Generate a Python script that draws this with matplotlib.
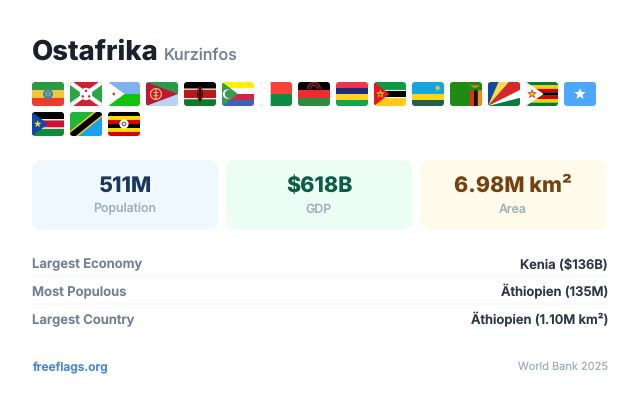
import math
import matplotlib
matplotlib.use("Agg")
import matplotlib.pyplot as plt
from matplotlib.patches import FancyBboxPatch, Polygon, Rectangle, Circle, Wedge, Ellipse

plt.rcParams['font.family'] = ['Inter', 'DejaVu Sans']
plt.rcParams['text.hinting'] = 'no_hinting'
plt.rcParams['text.hinting_factor'] = 1

title = "Ostafrika"
subtitle = "Kurzinfos"
stat_values = ["511M", "$618B", "6.98M km²"]
stat_labels = ["Population", "GDP", "Area"]
stat_bg = ["#F0F8FF", "#EBFDF4", "#FFFBEA"]
stat_fg = ["#1A365D", "#0F5C45", "#744210"]
row_labels = ["Largest Economy", "Most Populous", "Largest Country"]
row_values = ["Kenia ($136B)", "Äthiopien (135M)", "Äthiopien (1.10M km²)"]
footer_left = "freeflags.org"
footer_right = "World Bank 2025"
flag_codes = ["et", "bi", "dj", "er", "ke", "km", "mg", "mw", "mu", "mz", "rw", "zm", "sc", "zw", "so",
              "ss", "tz", "ug"]

PX = 0.72
fig = plt.figure(figsize=(6.4, 4.0601), dpi=100, facecolor="white")
ax = fig.add_axes([0, 0, 1, 1])
ax.set_xlim(0, 640)
ax.set_ylim(406, 0)
ax.axis("off")

FW, FH = 32, 24


def flag(code, x0, y0):
    ax.add_patch(FancyBboxPatch((x0 + 0.3, y0 + 1.2), FW - 0.6, FH - 0.4,
                                boxstyle="round,pad=0,rounding_size=3",
                                fc="#E9EDF2", ec="none", alpha=0.55, zorder=1))
    clip = FancyBboxPatch((x0, y0), FW, FH, boxstyle="round,pad=0,rounding_size=3",
                          fc="white", ec="none", zorder=2)
    ax.add_patch(clip)
    z = [3]

    def add(p):
        z[0] += 1
        p.set_zorder(z[0])
        p.set_clip_path(clip)
        p.set_linewidth(0)
        p.set_snap(False)
        ax.add_patch(p)

    def rect(u, v, w, h, c):
        add(Rectangle((x0 + u * FW, y0 + v * FH), w * FW, h * FH, fc=c, ec="none"))

    def poly(pts, c):
        add(Polygon([(x0 + u * FW, y0 + v * FH) for u, v in pts], closed=True, fc=c, ec="none"))

    def circ(u, v, r, c):
        add(Circle((x0 + u * FW, y0 + v * FH), r, fc=c, ec="none"))

    def star(u, v, r, c):
        pts = []
        for i in range(10):
            rr = r if i % 2 == 0 else r * 0.42
            a = -math.pi / 2 + i * math.pi / 5
            pts.append((x0 + u * FW + rr * math.cos(a), y0 + v * FH + rr * math.sin(a)))
        add(Polygon(pts, closed=True, fc=c, ec="none"))

    def ell(u, v, w, h, c):
        add(Ellipse((x0 + u * FW, y0 + v * FH), w, h, fc=c, ec="none"))

    def stripes(cs, ws=None):
        ws = ws or [1 / len(cs)] * len(cs)
        v = 0
        for c, w in zip(cs, ws):
            rect(0, v, 1, w, c)
            v += w

    if code == "et":
        stripes(["#2B9A3E", "#F2C63A", "#EF3B2D"])
        circ(.5, .5, 5, "#3F86B0")
        star(.5, .5, 3.6, "#C9B65A")
        circ(.5, .5, 1.4, "#3F86B0")
    elif code == "bi":
        rect(0, 0, 1, 1, "#27A845")
        poly([(0, 0), (1, 0), (.5, .5)], "#CE2232")
        poly([(0, 1), (1, 1), (.5, .5)], "#CE2232")
        poly([(0, 0), (.1, 0), (1, .88), (1, 1), (.9, 1), (0, .12)], "white")
        poly([(1, 0), (.9, 0), (0, .88), (0, 1), (.1, 1), (1, .12)], "white")
        circ(.5, .5, 6.2, "white")
        for u, v in [(.5, .37), (.4, .6), (.6, .6)]:
            circ(u, v, 1.2, "#CE2232")
    elif code == "dj":
        stripes(["#7FB2EE", "#12C20E"])
        poly([(0, 0), (.52, .5), (0, 1)], "white")
        star(.18, .5, 2, "#D7141A")
    elif code == "er":
        rect(0, 0, 1, .5, "#2B9A48")
        rect(0, .5, 1, .5, "#B8D4F2")
        poly([(0, 0), (1, .5), (0, 1)], "#C01535")
        add(Wedge((x0 + .31 * FW, y0 + .5 * FH), 6, 0, 360, width=1.2, fc="#E9C46A", ec="none"))
        rect(.29, .3, .04, .4, "#E9C46A")
        rect(.23, .42, .16, .04, "#E9C46A")
        rect(.23, .55, .16, .04, "#E9C46A")
    elif code == "ke":
        stripes(["#000000", "white", "#BB1A1A", "white", "#0B7A2B"], [.28, .04, .36, .04, .28])
        ell(.5, .5, 6, 15, "#BB1A1A")
        rect(.475, .2, .05, .6, "#111111")
        ell(.43, .5, 1.4, 8, "#111111")
        ell(.57, .5, 1.4, 8, "#111111")
    elif code == "km":
        stripes(["#FFF200", "white", "#CE2746", "#3D63B5"])
        poly([(0, 0), (.5, .5), (0, 1)], "#3A9B4E")
        circ(.17, .5, 4.7, "white")
        circ(.22, .5, 4.2, "#3A9B4E")
    elif code == "mg":
        rect(0, 0, 1, .5, "#F9423A")
        rect(0, .5, 1, .5, "#0F8A44")
        rect(0, 0, 1 / 3, 1, "white")
    elif code == "mw":
        stripes(["#000000", "#EF2B2D", "#2E8B3D"])
        add(Wedge((x0 + .5 * FW, y0 + 7), 7, 180, 360, width=1.4, fc="#AA1E1E", ec="none"))
        add(Wedge((x0 + .5 * FW, y0 + 7), 4.4, 180, 360, width=1.4, fc="#AA1E1E", ec="none"))
    elif code == "mu":
        stripes(["#E8384F", "#1F2A78", "#FFD21F", "#0FA650"])
    elif code == "mz":
        stripes(["#0E9A3E", "#000000", "#FFCC1A"], [.36, .28, .36])
        rect(0, .33, 1, .04, "white")
        rect(0, .63, 1, .04, "white")
        poly([(0, 0), (.48, .5), (0, 1)], "#E8171F")
        star(.2, .5, 4.4, "#FFCC1A")
        circ(.2, .52, 1.2, "#55341A")
    elif code == "rw":
        stripes(["#18A5DF", "#F9D616", "#23604A"], [.5, .25, .25])
        circ(.8, .25, 2.2, "#C9CC4B")
    elif code == "zm":
        rect(0, 0, 1, 1, "#1F8A16")
        rect(.62, .35, .13, .65, "#D9341F")
        rect(.75, .35, .12, .65, "#111111")
        rect(.87, .35, .13, .65, "#F08A1D")
        poly([(.62, .14), (.95, .14), (.82, .24), (.75, .24)], "#E5821E")
    elif code == "sc":
        rect(0, 0, 1, 1, "#0B7A3E")
        poly([(0, 1), (0, 0), (.33, 0)], "#0F4C9E")
        poly([(0, 1), (.33, 0), (.66, 0)], "#FCD856")
        poly([(0, 1), (.66, 0), (1, 0), (1, .33)], "#D62828")
        poly([(0, 1), (1, .33), (1, .66)], "white")
    elif code == "zw":
        stripes(["#0A7A37", "#FFD200", "#D40000", "#000000", "#D40000", "#FFD200", "#0A7A37"])
        poly([(0, 0), (.55, .5), (0, 1)], "white")
        star(.19, .5, 5, "#D40000")
        star(.19, .5, 3.4, "#F5C518")
    elif code == "so":
        rect(0, 0, 1, 1, "#4DA6FF")
        star(.5, .5, 6, "white")
    elif code == "ss":
        stripes(["#000000", "white", "#D21034", "white", "#0F8A3C"], [.3, .05, .3, .05, .3])
        poly([(0, 0), (.5, .5), (0, 1)], "#0F47AF")
        star(.18, .5, 3.8, "#FCDD09")
    elif code == "tz":
        rect(0, 0, 1, 1, "#1EB53A")
        poly([(1, 0), (1, 1), (0, 1)], "#19A0F0")
        poly([(.74, 0), (1, 0), (1, .2), (.26, 1), (0, 1), (0, .8)], "#FCD116")
        poly([(.82, 0), (1, 0), (1, .13), (.18, 1), (0, 1), (0, .87)], "#000000")
    elif code == "ug":
        stripes(["#000000", "#FCDC04", "#D90000"] * 2)
        circ(.5, .5, 4.6, "white")
        circ(.5, .5, 2.4, "#777777")
        circ(.5, .5, 1.0, "white")


for i, code in enumerate(flag_codes):
    row, col = divmod(i, 15)
    flag(code, 32 + col * 38, 82 + row * 30)

ax.text(32, 60, title, fontsize=27.5 * PX, fontweight=800, color="#1A202C", ha="left", va="baseline")
ax.text(164, 59.5, subtitle, fontsize=16 * PX, fontweight="medium", color="#718096", ha="left", va="baseline")

for i in range(3):
    x = 32 + i * 194
    ax.add_patch(FancyBboxPatch((x, 160), 186, 70, boxstyle="round,pad=0,rounding_size=10",
                                fc=stat_bg[i], ec="none", zorder=1))
    ax.text(x + 93, 192, stat_values[i], fontsize=21.5 * PX, fontweight=800, color=stat_fg[i],
            ha="center", va="baseline", zorder=3)
    ax.text(x + 93, 212.5, stat_labels[i], fontsize=12.4 * PX, fontweight="medium", color="#A0AEC0",
            ha="center", va="baseline", zorder=3)

for i in range(3):
    y = 268.5 + i * 28
    ax.text(32, y, row_labels[i], fontsize=13.1 * PX, fontweight="semibold", color="#718096",
            ha="left", va="baseline")
    ax.text(608, y, row_values[i], fontsize=13 * PX, fontweight="semibold", color="#2D3748",
            ha="right", va="baseline")
    if i < 2:
        ax.plot([32, 608], [y + 7.5, y + 7.5], color="#F3F5F8", lw=0.8, solid_capstyle="butt", snap=False)

ax.text(32, 370, footer_left, fontsize=12 * PX, fontweight="semibold", color="#4A86E0", ha="left", va="baseline")
ax.text(608, 370, footer_right, fontsize=11 * PX, color="#A0AEC0", ha="right", va="baseline")

fig.savefig("out.png", dpi=100, facecolor="white")
